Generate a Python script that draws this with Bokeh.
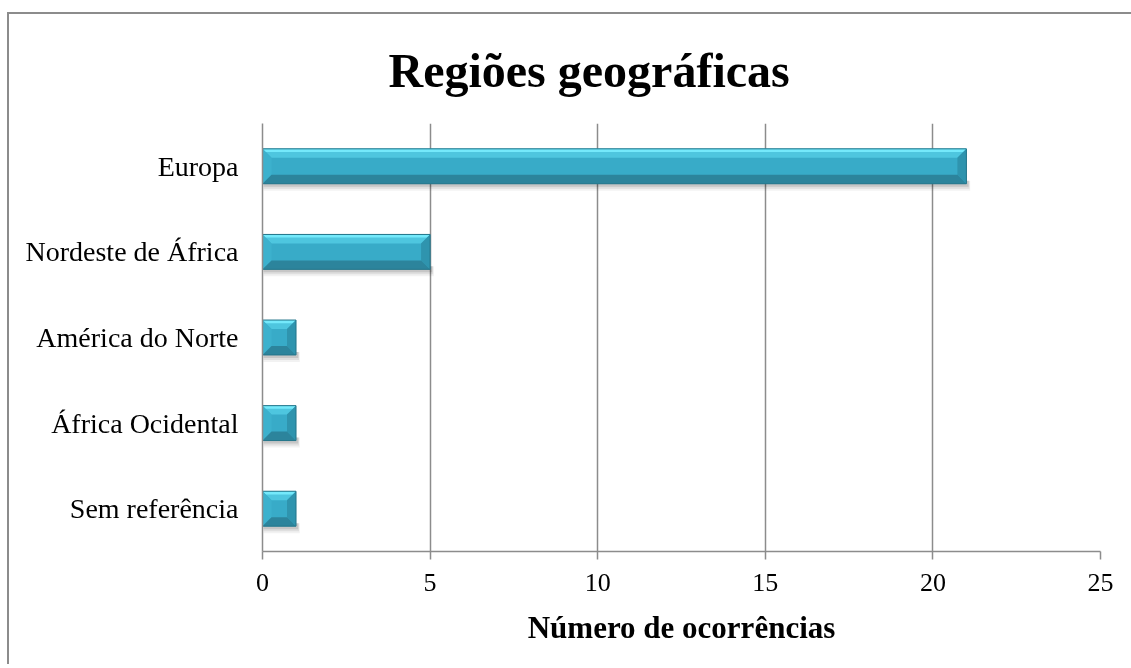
from bokeh.plotting import figure
from bokeh.models import FactorRange, Range1d, FixedTicker
from bokeh.embed import file_html
from bokeh.resources import INLINE

# ---- data ----
regions = ["Europa", "Nordeste de África", "América do Norte", "África Ocidental", "Sem referência"]
counts = [21, 5, 1, 1, 1]
x_ticks = [0, 5, 10, 15, 20, 25]
title_text = "Regiões geográficas"
x_label = "Número de ocorrências"

SERIF = "Liberation Serif"
GRID = "#8c8c8c"

factors = list(reversed(regions))  # bottom -> top
p = figure(width=1126, height=652, output_backend="svg", toolbar_location=None,
           y_range=FactorRange(factors=factors), x_range=Range1d(0, 25),
           min_border_left=253, min_border_right=35, min_border_top=108, min_border_bottom=115)
p.styles = {"box-shadow": "-2px -2px 0 0 #8c8c8c",
            "position": "fixed", "left": "9px", "top": "14px"}
p.outline_line_color = None
p.background_fill_color = "white"
p.border_fill_color = "white"

# title
p.title.text = title_text
p.title.text_font = SERIF
p.title.text_font_size = "48px"
p.title.text_font_style = "bold"
p.title.text_color = "black"
p.title.align = "left"
p.title.offset = 126
p.title.standoff = 54

# conversion of screen pixels to data units (frame 837.7 px wide, 429 px tall)
ux = 25 / 837.7
uy = 5 / 429.0

half = 17.5 * uy
bx, by = 9 * ux, 9 * uy

ycs = [factors.index(r) + 0.5 for r in regions]

# shadow
for k, a in [(7, 0.05), (5, 0.08), (3, 0.11)]:
    p.quad(left=[0 + 1 * ux] * len(counts), right=[c + (1 + k * 0.4) * ux for c in counts],
           top=[y - half + 3 * uy for y in ycs], bottom=[y - half - k * uy for y in ycs],
           fill_color="#000000", fill_alpha=a, line_color=None)

# body
p.hbar(y=regions, left=0, right=counts, height=35 * uy, fill_color="#38abc8", line_color=None)

def trap(pts):
    return [q[0] for q in pts], [q[1] for q in pts]

tx, ty, lx, ly, rx, ry, bxs, bys, hx, hy = [], [], [], [], [], [], [], [], [], []
for c, y in zip(counts, ycs):
    t, b = y + half, y - half
    xs, ys = trap([(0, t), (c, t), (c - bx, t - by), (bx, t - by)]); tx.append(xs); ty.append(ys)
    xs, ys = trap([(0, t), (bx, t - by), (bx, b + by), (0, b)]); lx.append(xs); ly.append(ys)
    xs, ys = trap([(c, t), (c, b), (c - bx, b + by), (c - bx, t - by)]); rx.append(xs); ry.append(ys)
    xs, ys = trap([(0, b), (bx, b + by), (c - bx, b + by), (c, b)]); bxs.append(xs); bys.append(ys)
    xs, ys = trap([(0, t), (c, t), (c - 0.35 * bx, t - 0.35 * by), (0.35 * bx, t - 0.35 * by)]); hx.append(xs); hy.append(ys)

p.patches(tx, ty, fill_color="#4ec6df", line_color=None)
p.patches(hx, hy, fill_color="#74e9fb", line_color=None)
p.patches(lx, ly, fill_color="#3cb1cd", line_color=None)
p.patches(rx, ry, fill_color="#2f94ae", line_color=None)
p.patches(bxs, bys, fill_color="#2c849c", line_color=None)
p.quad(left=0, right=counts, top=[y + half for y in ycs], bottom=[y - half for y in ycs],
       fill_color=None, line_color="#24758a", line_width=1)

# axes & grid
p.xgrid.grid_line_color = GRID
p.xgrid.grid_line_width = 1.5
p.ygrid.grid_line_color = None
p.xaxis.ticker = FixedTicker(ticks=x_ticks)
p.xaxis.axis_line_color = GRID
p.xaxis.axis_line_width = 1.5
p.xaxis.major_tick_line_color = GRID
p.xaxis.major_tick_line_width = 1.5
p.xaxis.major_tick_in = 0
p.xaxis.major_tick_out = 8
p.xaxis.minor_tick_line_color = None
p.xaxis.major_label_text_font = SERIF
p.xaxis.major_label_text_font_size = "26px"
p.xaxis.major_label_text_color = "black"
p.xaxis.major_label_standoff = 14
p.xaxis.axis_label = x_label
p.xaxis.axis_label_text_font = SERIF
p.xaxis.axis_label_text_font_size = "31px"
p.xaxis.axis_label_text_font_style = "bold"
p.xaxis.axis_label_text_color = "black"
p.xaxis.axis_label_standoff = 16

p.yaxis.axis_line_color = GRID
p.yaxis.axis_line_width = 1.5
p.yaxis.major_tick_line_color = None
p.yaxis.major_tick_out = 0
p.yaxis.major_tick_in = 0
p.yaxis.minor_tick_line_color = None
p.yaxis.major_label_text_font = SERIF
p.yaxis.major_label_text_font_size = "28px"
p.yaxis.major_label_text_color = "black"
p.yaxis.major_label_standoff = 24

open("out.html", "w").write(file_html(p, INLINE))
